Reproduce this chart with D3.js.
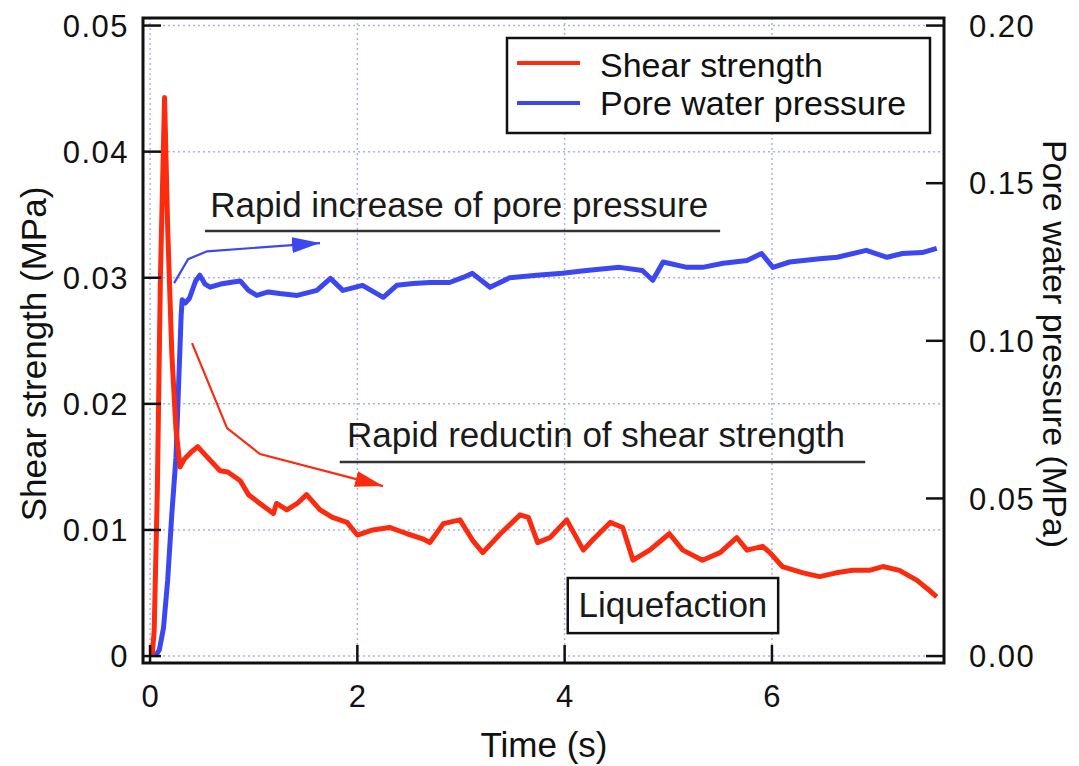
<!DOCTYPE html>
<html>
<head>
<meta charset="utf-8">
<script src="https://cdn.jsdelivr.net/npm/d3@7"></script>
<style>
html,body{margin:0;padding:0;background:#fff;}
svg{display:block;font-family:"Liberation Sans",Arial,Helvetica,sans-serif;}
</style>
</head>
<body>
<svg id="chart" width="1079" height="766"></svg>
<script>
// ---- data ----
const shearTime  = [0.02,0.04,0.07,0.10,0.14,0.17,0.21,0.25,0.29,0.33,0.40,0.46,0.55,0.675,0.75,0.87,0.95,1.06,1.19,1.22,1.32,1.42,1.51,1.64,1.76,1.90,2.00,2.15,2.31,2.48,2.63,2.70,2.83,2.99,3.11,3.21,3.38,3.57,3.65,3.74,3.86,4.02,4.18,4.27,4.44,4.56,4.66,4.82,5.01,5.14,5.33,5.50,5.66,5.76,5.91,5.98,6.10,6.30,6.46,6.62,6.78,6.94,7.07,7.23,7.40,7.52,7.59];
const shearValue = [0,0.002,0.013,0.030,0.0443,0.034,0.024,0.018,0.0150,0.0156,0.0162,0.0166,0.0158,0.0147,0.0146,0.0139,0.0128,0.0121,0.0113,0.0121,0.0116,0.0121,0.0128,0.0116,0.0110,0.0106,0.0096,0.0100,0.0102,0.0097,0.0093,0.0090,0.0105,0.0108,0.0092,0.0082,0.0097,0.0112,0.0110,0.0090,0.0094,0.0108,0.0084,0.0092,0.0106,0.0102,0.0076,0.0084,0.0097,0.0084,0.0076,0.0082,0.0094,0.0084,0.0087,0.0082,0.0071,0.0066,0.0063,0.0066,0.0068,0.0068,0.0071,0.0068,0.0060,0.0052,0.0047];

const poreTime  = [0.05,0.09,0.13,0.17,0.21,0.25,0.28,0.30,0.31,0.34,0.38,0.44,0.48,0.53,0.58,0.68,0.77,0.87,0.95,1.03,1.14,1.25,1.42,1.61,1.74,1.86,2.05,2.25,2.38,2.54,2.70,2.89,3.02,3.11,3.28,3.47,3.73,3.98,4.21,4.53,4.75,4.85,4.95,5.18,5.33,5.53,5.76,5.90,6.01,6.17,6.46,6.63,6.91,7.11,7.26,7.45,7.59];
const poreValue = [0,0.002,0.009,0.024,0.045,0.063,0.090,0.108,0.113,0.112,0.1135,0.119,0.1208,0.118,0.117,0.118,0.1185,0.119,0.116,0.1144,0.1155,0.115,0.1144,0.116,0.1198,0.116,0.1176,0.1138,0.1176,0.1182,0.1185,0.1185,0.1201,0.1214,0.117,0.120,0.1208,0.1214,0.1223,0.1233,0.1223,0.1192,0.125,0.1233,0.1233,0.1246,0.1255,0.1277,0.1233,0.125,0.126,0.1265,0.1287,0.1265,0.1277,0.128,0.1293];

const xTicks = [0,2,4,6];
const leftTicks = [0,0.01,0.02,0.03,0.04,0.05];
const leftTickLabels = ["0","0.01","0.02","0.03","0.04","0.05"];
const rightTicks = [0,0.05,0.10,0.15,0.20];
const rightTickLabels = ["0.00","0.05","0.10","0.15","0.20"];
const seriesNames = ["Shear strength","Pore water pressure"];
const seriesColors = ["#fb2b10","#3d47f0"];

// annotations in data units (time, shear-strength units)
const poreArrowT = [0.232,0.367,0.55,1.64];
const poreArrowP = [0.1183,0.1259,0.1284,0.131];
const shearArrowT = [0.405,0.743,1.061,2.248];
const shearArrowV = [0.02482,0.01808,0.01602,0.01348];

// ---- layout ----
const svg = d3.select("#chart");
const L = 143, R = 944, T = 18, B = 663;
const x = d3.scaleLinear().domain([-0.068, 7.66]).range([L, R]);
const yL = d3.scaleLinear().domain([-0.00055, 0.0506]).range([B, T]);
const yR = d3.scaleLinear().domain([-0.0022, 0.2024]).range([B, T]);

svg.append("rect").attr("width",1079).attr("height",766).attr("fill","#fff");

// grid
const grid = svg.append("g").attr("stroke","#aab2ee").attr("stroke-width",1.5).attr("stroke-dasharray","2,3");
xTicks.forEach(t => grid.append("line").attr("x1",x(t)).attr("x2",x(t)).attr("y1",T).attr("y2",B));
leftTicks.forEach(v => grid.append("line").attr("x1",L).attr("x2",R).attr("y1",yL(v)).attr("y2",yL(v)));

// data lines
const blueLine = d3.line().x(i => x(poreTime[i])).y(i => yR(poreValue[i]));
const redLine = d3.line().x(i => x(shearTime[i])).y(i => yL(shearValue[i]));
svg.append("path").attr("d", blueLine(d3.range(poreTime.length)))
  .attr("fill","none").attr("stroke",seriesColors[1]).attr("stroke-width",5).attr("stroke-linejoin","round");
svg.append("path").attr("d", redLine(d3.range(shearTime.length)))
  .attr("fill","none").attr("stroke",seriesColors[0]).attr("stroke-width",5).attr("stroke-linejoin","round");

// frame
svg.append("rect").attr("x",L).attr("y",T).attr("width",R-L).attr("height",B-T)
  .attr("fill","none").attr("stroke","#111").attr("stroke-width",3);

// ticks
const tk = svg.append("g").attr("stroke","#111").attr("stroke-width",2.5);
const TL = 18;
leftTicks.forEach(v => tk.append("line").attr("x1",L).attr("x2",L+TL).attr("y1",yL(v)).attr("y2",yL(v)));
rightTicks.forEach(v => tk.append("line").attr("x1",R-TL).attr("x2",R).attr("y1",yR(v)).attr("y2",yR(v)));
xTicks.forEach(t => tk.append("line").attr("x1",x(t)).attr("x2",x(t)).attr("y1",B).attr("y2",B-TL));

// tick labels
const tf = 31;
leftTicks.forEach((v,i) => svg.append("text").attr("x",129).attr("y",yL(v)).attr("dy","0.36em")
  .attr("text-anchor","end").attr("font-size",tf).attr("letter-spacing",1.5).attr("fill","#111").text(leftTickLabels[i]));
rightTicks.forEach((v,i) => svg.append("text").attr("x",969).attr("y",yR(v)).attr("dy","0.36em")
  .attr("text-anchor","start").attr("font-size",tf).attr("letter-spacing",1.5).attr("fill","#111").text(rightTickLabels[i]));
xTicks.forEach(t => svg.append("text").attr("x",x(t)).attr("y",707)
  .attr("text-anchor","middle").attr("font-size",tf).attr("fill","#111").text(String(t)));

// axis titles
svg.append("text").attr("x",544).attr("y",757).attr("text-anchor","middle").attr("font-size",35).attr("fill","#111").text("Time (s)");
svg.append("text").attr("transform","translate(46,354) rotate(-90)").attr("text-anchor","middle").attr("font-size",35).attr("fill","#111").text("Shear strength (MPa)");
svg.append("text").attr("transform","translate(1043,344) rotate(90)").attr("text-anchor","middle").attr("font-size",34).attr("fill","#111").text("Pore water pressure (MPa)");

// legend
svg.append("rect").attr("x",507).attr("y",38).attr("width",423).attr("height",95)
  .attr("fill","#fff").attr("stroke","#111").attr("stroke-width",2.5);
[63,103].forEach((yy,i) => {
  svg.append("line").attr("x1",517).attr("x2",580).attr("y1",yy).attr("y2",yy).attr("stroke",seriesColors[i]).attr("stroke-width",4);
});
svg.append("text").attr("x",600).attr("y",77).attr("font-size",34).attr("fill","#111").text(seriesNames[0]);
svg.append("text").attr("x",600).attr("y",115).attr("font-size",34).attr("fill","#111").text(seriesNames[1]);

// arrow markers
const defs = svg.append("defs");
seriesColors.forEach((c,i) => {
  defs.append("marker").attr("id","ah"+i).attr("markerUnits","userSpaceOnUse")
    .attr("markerWidth",30).attr("markerHeight",18).attr("refX",28).attr("refY",8)
    .attr("orient","auto")
    .append("path").attr("d","M0,0 L28,8 L0,16 Z").attr("fill",c);
});
const arrowLine = d3.line().curve(d3.curveLinear);
svg.append("path").attr("d", arrowLine(poreArrowT.map((t,i)=>[x(t), yR(poreArrowP[i])])))
  .attr("fill","none").attr("stroke",seriesColors[1]).attr("stroke-width",2.2).attr("marker-end","url(#ah1)");
svg.append("path").attr("d", arrowLine(shearArrowT.map((t,i)=>[x(t), yL(shearArrowV[i])])))
  .attr("fill","none").attr("stroke",seriesColors[0]).attr("stroke-width",2.2).attr("marker-end","url(#ah0)");

// annotation texts
svg.append("text").attr("x",x(0.58)).attr("y",yL(0.0348)).attr("font-size",35).attr("fill","#1a1a1a").text("Rapid increase of pore pressure");
svg.append("line").attr("x1",x(0.53)).attr("x2",x(5.5)).attr("y1",yL(0.0337)).attr("y2",yL(0.0337)).attr("stroke","#333").attr("stroke-width",2.5);
svg.append("text").attr("x",x(1.9)).attr("y",yL(0.01657)).attr("font-size",35).attr("fill","#1a1a1a").text("Rapid reductin of shear strength");
svg.append("line").attr("x1",x(1.83)).attr("x2",x(6.9)).attr("y1",yL(0.01538)).attr("y2",yL(0.01538)).attr("stroke","#333").attr("stroke-width",2.5);

// liquefaction box
svg.append("rect").attr("x",x(4.03)).attr("y",yL(0.00619)).attr("width",x(6.06)-x(4.03)).attr("height",yL(0.00182)-yL(0.00619))
  .attr("fill","#fff").attr("stroke","#111").attr("stroke-width",2.5);
svg.append("text").attr("x",(x(4.03)+x(6.06))/2).attr("y",617).attr("text-anchor","middle").attr("font-size",35).attr("fill","#1a1a1a").text("Liquefaction");
</script>
</body>
</html>
